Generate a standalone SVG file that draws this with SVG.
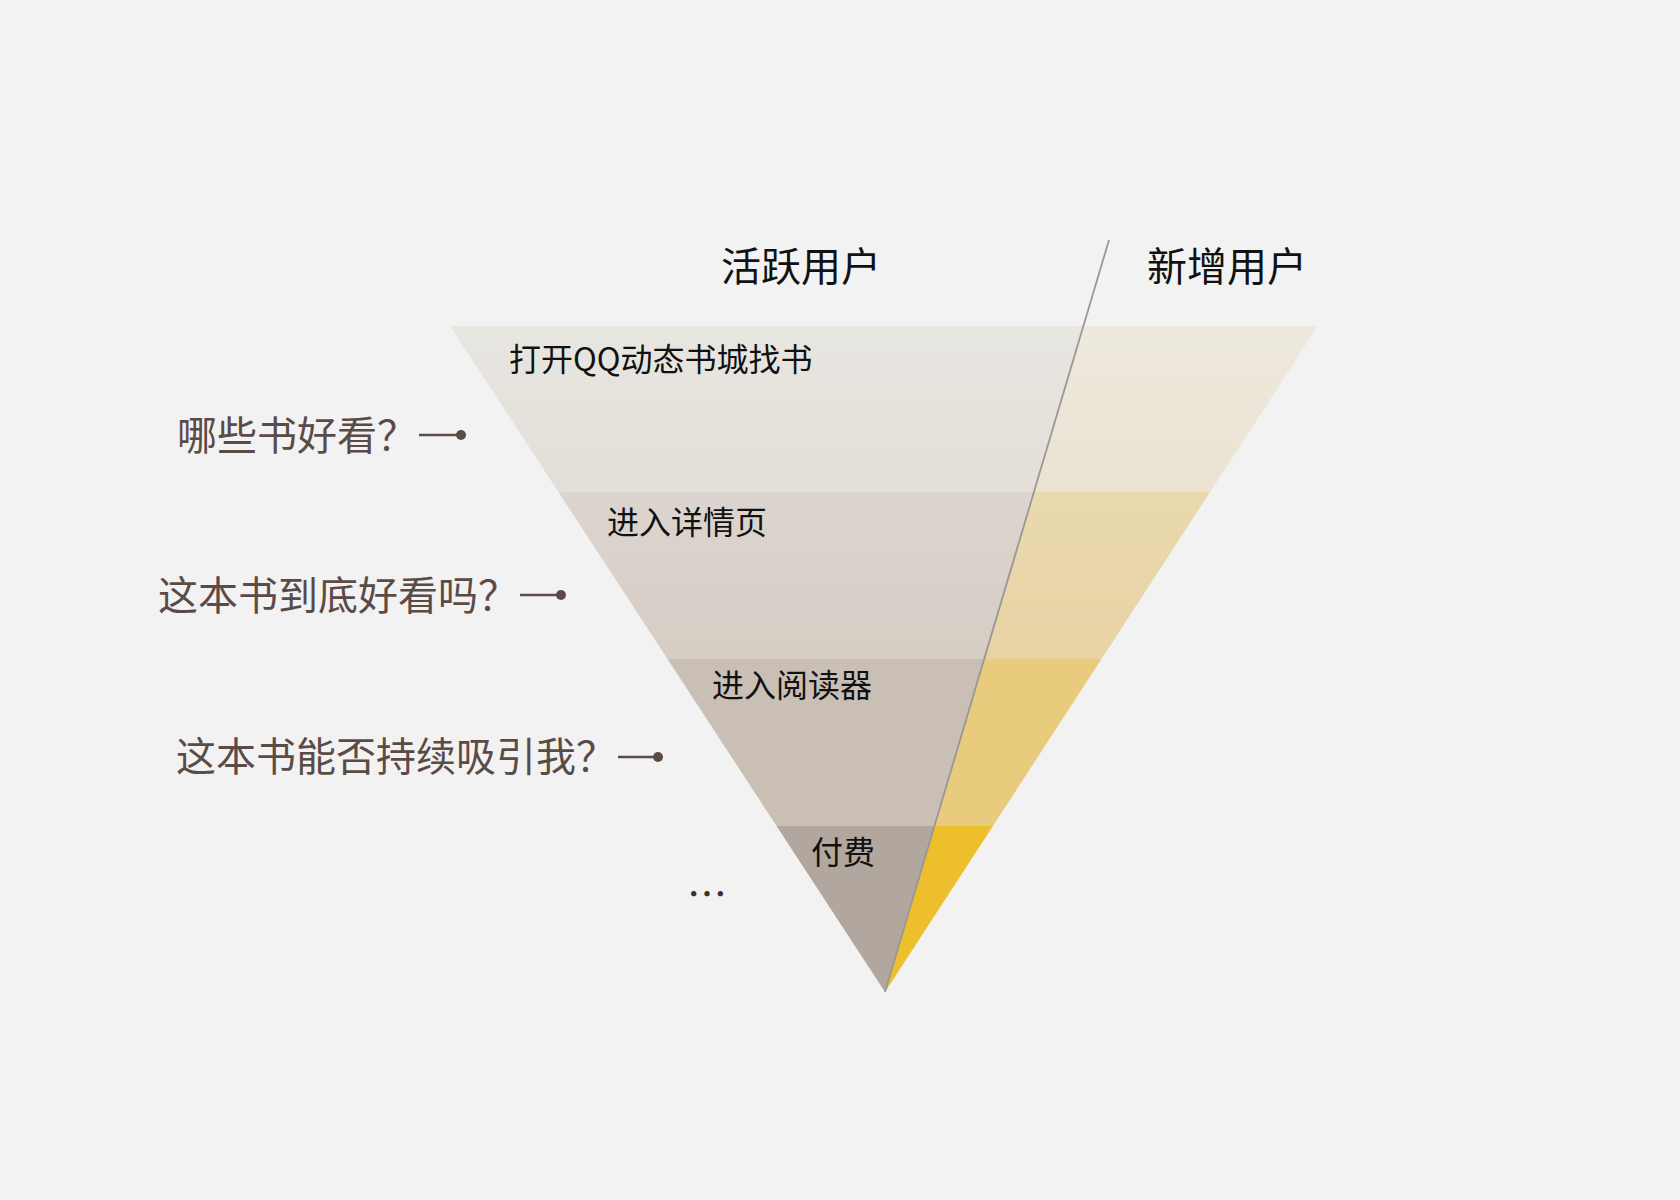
<svg xmlns="http://www.w3.org/2000/svg" width="1680" height="1200" viewBox="0 0 1680 1200">
<style>
.title{font-family:"Noto Sans CJK SC",sans-serif;font-size:40px;fill:#111}
.lbl{font-family:"Noto Sans CJK SC",sans-serif;font-size:32px;fill:#111}
.q{font-family:"Noto Sans CJK SC",sans-serif;font-size:40px;fill:#5b4b47}
.lead{stroke:#5b4b47;stroke-width:2.4;fill:none}
.dot{fill:#5b4b47}
</style>
<defs>
<clipPath id="clipL"><polygon points="450,326 1083.4,326 885,992"/></clipPath>
<clipPath id="clipR"><polygon points="1083.4,326 1318,326 885,992"/></clipPath>
<linearGradient id="l1" x1="0" y1="0" x2="0" y2="1"><stop offset="0" stop-color="#e8e6e1"/><stop offset="1" stop-color="#e3ded7"/></linearGradient>
<linearGradient id="l2" x1="0" y1="0" x2="0" y2="1"><stop offset="0" stop-color="#dcd5cf"/><stop offset="1" stop-color="#d6cdc4"/></linearGradient>
<linearGradient id="r1" x1="0" y1="0" x2="0" y2="1"><stop offset="0" stop-color="#eee9de"/><stop offset="1" stop-color="#ebe2d2"/></linearGradient>
<linearGradient id="r2" x1="0" y1="0" x2="0" y2="1"><stop offset="0" stop-color="#e9d9ad"/><stop offset="1" stop-color="#e8d3a6"/></linearGradient>
</defs>
<rect width="1680" height="1200" fill="#f2f2f2"/>
<g id="funnel-active" clip-path="url(#clipL)">
<rect x="440" y="326" width="660" height="166" fill="url(#l1)"/>
<rect x="440" y="492" width="660" height="167" fill="url(#l2)"/>
<rect x="440" y="659" width="660" height="167" fill="#c9bfb5"/>
<rect x="440" y="826" width="660" height="170" fill="#b1a79e"/>
</g>
<g id="funnel-new" clip-path="url(#clipR)">
<rect x="870" y="326" width="460" height="166" fill="url(#r1)"/>
<rect x="870" y="492" width="460" height="167" fill="url(#r2)"/>
<rect x="870" y="659" width="460" height="167" fill="#e8cb7c"/>
<rect x="870" y="826" width="460" height="170" fill="#eebf2c"/>
</g>
<g id="connectors">
<line x1="1109" y1="240" x2="885" y2="992" stroke="#9a9795" stroke-width="1.8"/>
<line class="lead" x1="419" y1="435" x2="461" y2="435"/>
<circle class="dot" cx="461" cy="435" r="5"/>
<line class="lead" x1="520" y1="595" x2="561" y2="595"/>
<circle class="dot" cx="561" cy="595" r="5"/>
<line class="lead" x1="618" y1="757" x2="658" y2="757"/>
<circle class="dot" cx="658" cy="757" r="5"/>
</g>
<g id="title-active"><text class="title" x="721" y="281">活跃用户</text></g>
<g id="title-new"><text class="title" x="1147" y="281">新增用户</text></g>
<g id="stage1"><text class="lbl" x="509" y="371">打开QQ动态书城找书</text></g>
<g id="stage2"><text class="lbl" x="607" y="534">进入详情页</text></g>
<g id="stage3"><text class="lbl" x="712" y="697">进入阅读器</text></g>
<g id="stage4"><text class="lbl" x="811" y="864">付费</text></g>
<g id="q1"><text class="q" x="177" y="450">哪些书好看？</text></g>
<g id="q2"><text class="q" x="158" y="610">这本书到底好看吗？</text></g>
<g id="q3"><text class="q" x="176" y="771">这本书能否持续吸引我？</text></g>
<g id="more"><text x="687" y="909" style="font-family:'Noto Sans CJK SC',sans-serif;font-size:40px;fill:#333">…</text></g>
</svg>
